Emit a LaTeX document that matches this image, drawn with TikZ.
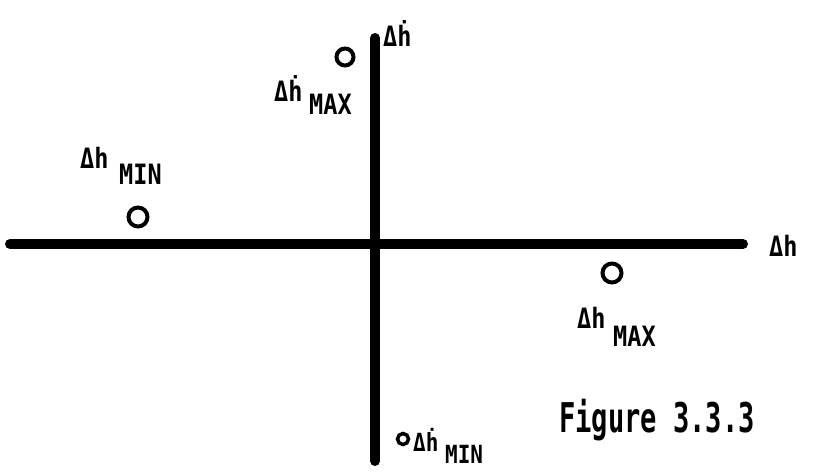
\documentclass[tikz,border=0pt]{standalone}
\usepackage{fontspec}
\setmainfont{DejaVu Sans Mono}
\begin{document}
\begin{tikzpicture}[x=1pt,y=-1pt,
  axis/.style={line width=10pt,line cap=round},
  pt/.style={draw,circle,line width=4pt,inner sep=0pt},
  lbl/.style={inner sep=0pt,anchor=base west,font=\fontsize{28}{28}\selectfont\bfseries},
  fig/.style={inner sep=0pt,anchor=base west,font=\fontsize{41}{41}\selectfont\bfseries}]
\useasboundingbox (0,0) rectangle (813,471);
% axes
\coordinate (hL) at (10,244);
\coordinate (hR) at (743,244);
\coordinate (vT) at (375,38);
\coordinate (vB) at (375,461);
\draw[axis] (hL) -- (hR);
\draw[axis] (vT) -- (vB);
% points
\node[pt,minimum size=17pt] (p1) at (345,57) {};
\node[pt,minimum size=19pt] (p2) at (138,217) {};
\node[pt,minimum size=19pt] (p3) at (612,273) {};
\node[pt,line width=3.5pt,minimum size=11pt] (p4) at (403,439) {};
% labels
\node[lbl] (yax) at (383,46) {\scalebox{0.84}[1]{Δ\.{h}}};
\node[lbl] (xax) at (769,256) {\scalebox{0.84}[1]{Δh}};
\node[lbl] (mx1) at (274,101) {\scalebox{0.84}[1]{Δ\.{h}}};
\node[lbl] (mx1s) at (309,114) {\scalebox{0.84}[1]{MAX}};
\node[lbl] (mn1) at (80,168) {\scalebox{0.84}[1]{Δh}};
\node[lbl] (mn1s) at (119,184) {\scalebox{0.84}[1]{MIN}};
\node[lbl] (mx2) at (577,328) {\scalebox{0.84}[1]{Δh}};
\node[lbl] (mx2s) at (613,346) {\scalebox{0.84}[1]{MAX}};
\node[lbl,font=\fontsize{25}{25}\selectfont\bfseries] (mn2) at (413,451) {\scalebox{0.84}[1]{Δ\.{h}}};
\node[lbl,font=\fontsize{25}{25}\selectfont\bfseries] (mn2s) at (445,463) {\scalebox{0.84}[1]{MIN}};
\node[fig] (cap) at (559,432) {\scalebox{0.66}[1]{Figure 3.3.3}};
\end{tikzpicture}
\end{document}
